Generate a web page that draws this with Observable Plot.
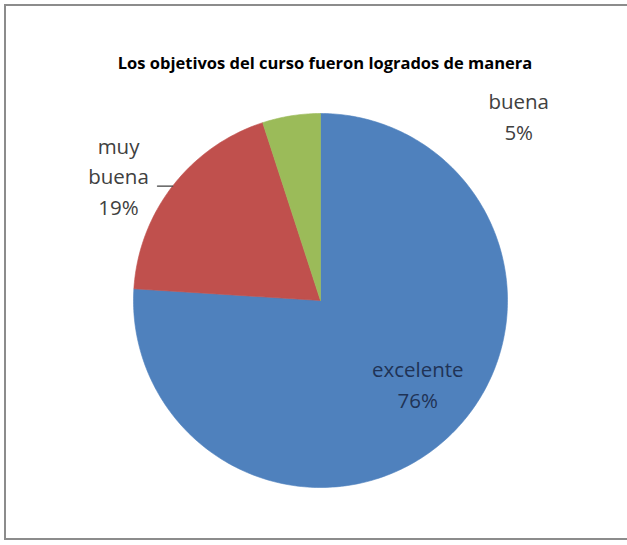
<!DOCTYPE html>
<html>
<head>
<meta charset="utf-8">
<script src="https://cdn.jsdelivr.net/npm/d3@7"></script>
<script src="https://cdn.jsdelivr.net/npm/@observablehq/plot@0.6"></script>
<style>
  html, body { margin: 0; padding: 0; background: #fff; }
  #wrap { position: relative; width: 627px; height: 545px; overflow: hidden; }
  #border { position: absolute; left: 4px; top: 4px; width: 660px; height: 536px;
            border: 2px solid #8c8c8c; box-sizing: border-box; }
  #chart { position: absolute; left: 0; top: 0; }
</style>
</head>
<body>
<div id="wrap"><div id="border"></div><div id="chart"></div></div>
<script>
const title = "Los objetivos del curso fueron logrados de manera";
const categories = ["excelente", "muy buena", "buena"];
const values = [76, 19, 5];
const colors = ["#4F81BD", "#C0504D", "#9BBB59"];

const R = 187;
const pie = d3.pie().sort(null).value(d => d.value)(categories.map((c, i) => ({name: c, value: values[i]})));

// polygon points for each slice
const slicePts = [];
pie.forEach(s => {
  const n = Math.max(4, Math.ceil((s.endAngle - s.startAngle) * 60));
  slicePts.push({name: s.data.name, x: 0, y: 0});
  for (let k = 0; k <= n; k++) {
    const a = s.startAngle + (s.endAngle - s.startAngle) * k / n;
    slicePts.push({name: s.data.name, x: R * Math.sin(a), y: -R * Math.cos(a)});
  }
  slicePts.push({name: s.data.name, x: 0, y: 0});
});

// label placement (offsets relative to pie center, in radius units)
const labelPlace = {
  "excelente": {inside: true, dx: 0.52, dy: 0.44},
  "muy buena": {inside: false, dx: -1.08, dy: -0.674},
  "buena": {inside: false, dx: 1.06, dy: -0.995}
};
const labels = pie.map((s, i) => {
  const p = labelPlace[s.data.name];
  const name = s.data.name.replace(" ", "\n");
  return {x: p.dx * R, y: p.dy * R, text: name + "\n" + values[i] + "%", inside: p.inside};
});

// leader line for "muy buena"
const leader = [{x: -0.872 * R, y: -0.612 * R}, {x: -0.79 * R, y: -0.612 * R}];

const chart = Plot.plot({
  width: 627,
  height: 545,
  margin: 0,
  x: {domain: [-320, 307], range: [0, 627], axis: null},
  y: {domain: [-300, 245], range: [0, 545], axis: null},
  color: {domain: categories, range: colors},
  style: {background: "transparent", overflow: "visible"},
  marks: [
    Plot.line(slicePts, {x: "x", y: "y", z: "name", fill: "name", stroke: "name", strokeWidth: 0.6, curve: "linear"}),
    Plot.line(leader, {x: "x", y: "y", stroke: "#404040", strokeWidth: 1.2}),
    Plot.text(labels.filter(d => !d.inside), {x: "x", y: "y", text: "text", fill: "#404040",
      fontSize: 20.5, lineHeight: 1.5, fontFamily: "Open Sans", textAnchor: "middle"}),
    Plot.text(labels.filter(d => d.inside), {x: "x", y: "y", text: "text", fill: "#1f3356",
      fontSize: 20.5, lineHeight: 1.5, fontFamily: "Open Sans", textAnchor: "middle"}),
    Plot.text([title], {frameAnchor: "top", dx: 11, dy: 57, text: d => d, fontSize: 16.5,
      fontWeight: "bold", fontFamily: "Open Sans", fill: "#000"})
  ]
});
document.getElementById("chart").appendChild(chart);
</script>
</body>
</html>
